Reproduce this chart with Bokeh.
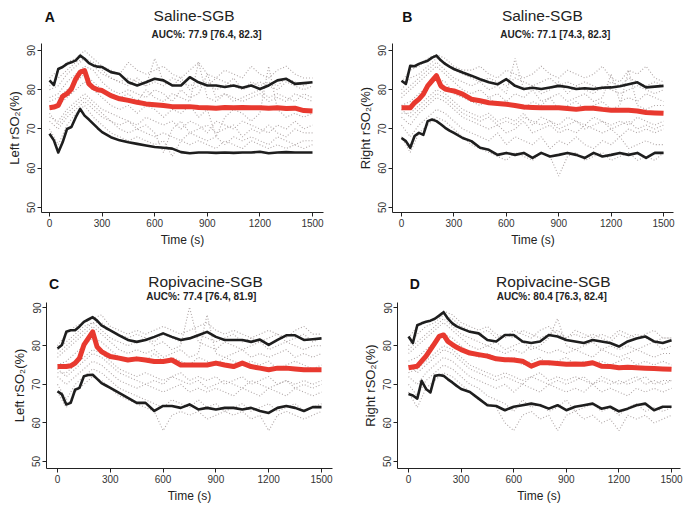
from bokeh.plotting import figure
from bokeh.layouts import column, row
from bokeh.models import Range1d, FixedTicker
from bokeh.core.properties import value
from bokeh.embed import file_html
from bokeh.resources import INLINE

# ---------------- data ----------------
TIME_MAIN = [0, 25, 50, 75, 100, 125, 150, 175, 200, 225, 250, 275, 300, 350, 400, 450, 500,
             550, 600, 650, 700, 750, 800, 850, 900, 950, 1000, 1050, 1100, 1150, 1200, 1250,
             1300, 1350, 1400, 1450, 1500]
TIME_GREY = [0, 50, 100, 150, 200, 250, 300, 350, 400, 450, 500, 550, 600, 650, 700, 750,
             800, 850, 900, 950, 1000, 1050, 1100, 1150, 1200, 1250, 1300, 1350, 1400, 1450, 1500]
X_TICKS = [0, 300, 600, 900, 1200, 1500]
Y_TICKS = [50, 60, 70, 80, 90]

LETTERS = ["A", "B", "C", "D"]
TITLES = ["Saline-SGB", "Saline-SGB", "Ropivacine-SGB", "Ropivacine-SGB"]
AUC_TEXT = ["AUC%: 77.9 [76.4, 82.3]", "AUC%: 77.1 [74.3, 82.3]",
            "AUC%: 77.4 [76.4, 81.9]", "AUC%: 80.4 [76.3, 82.4]"]
Y_LABELS = ["Left rSO\u2082(%)", "Right rSO\u2082(%)", "Left rSO\u2082(%)", "Right rSO\u2082(%)"]
X_LABEL = "Time (s)"

# Panel A (Saline, left)
A_UPPER = [82.4, 81.2, 85.3, 85.8, 86.6, 87.0, 87.5, 88.7, 87.9, 86.8, 86.2, 85.9, 85.8, 84.5, 84.0,
           81.9, 81.1, 81.9, 82.8, 82.4, 81.1, 81.1, 83.2, 81.9, 81.1, 81.1, 80.7, 81.1, 80.5, 81.1,
           80.2, 81.1, 82.4, 82.8, 81.5, 81.7, 81.9]
A_MEDIAN = [75.4, 75.6, 76.0, 78.3, 79.0, 80.2, 82.8, 84.5, 84.9, 81.5, 80.5, 80.0, 79.8, 78.5, 77.7,
            77.3, 76.8, 76.4, 76.2, 76.0, 75.7, 75.7, 75.7, 75.5, 75.4, 75.3, 75.5, 75.4, 75.5, 75.4,
            75.4, 75.3, 75.4, 75.2, 75.3, 74.7, 74.6]
A_LOWER = [68.8, 67.1, 64.0, 66.6, 70.0, 70.5, 73.0, 75.1, 73.4, 72.4, 71.3, 70.2, 69.2, 67.9, 67.1,
           66.6, 66.2, 65.8, 65.4, 65.2, 65.0, 64.1, 63.8, 64.0, 64.0, 63.9, 64.0, 63.9, 64.0, 64.0,
           64.2, 63.8, 64.0, 64.1, 64.0, 64.0, 64.0]
A_GREYS = [
    [83, 85, 87, 88, 90, 88, 86, 85, 84, 87, 85, 84, 85, 86, 84, 83, 85, 87, 84, 83, 85, 84, 83, 86, 84, 83, 85, 86, 84, 83, 83],
    [80, 81, 84, 86, 88, 86, 84, 83, 82, 81, 83, 81, 88, 82, 81, 83, 80, 81, 82, 80, 81, 83, 80, 81, 82, 81, 80, 82, 81, 80, 81],
    [77, 78, 80, 82, 84, 82, 80, 79, 78, 79, 77, 80, 78, 77, 79, 78, 77, 87, 78, 77, 79, 78, 77, 78, 79, 77, 78, 77, 79, 78, 77],
    [75, 76, 78, 80, 82, 80, 78, 76, 75, 76, 74, 76, 75, 73, 75, 74, 76, 73, 75, 68, 73, 75, 74, 72, 74, 86, 75, 73, 74, 73, 74],
    [72, 70, 73, 75, 77, 75, 73, 72, 71, 72, 70, 71, 69, 64, 70, 72, 69, 70, 71, 69, 70, 71, 68, 70, 69, 71, 69, 68, 70, 69, 69],
    [70, 66, 71, 74, 76, 73, 71, 69, 68, 67, 68, 67, 66, 67, 63, 67, 66, 67, 66, 65, 67, 66, 65, 67, 66, 65, 66, 65, 66, 65, 66],
    [78, 79, 82, 84, 86, 85, 82, 80, 79, 80, 79, 78, 80, 79, 77, 80, 78, 79, 84, 78, 79, 77, 78, 79, 80, 78, 79, 78, 77, 79, 78],
    [73, 72, 75, 77, 79, 77, 75, 74, 73, 72, 71, 73, 72, 71, 72, 70, 72, 71, 69, 72, 71, 70, 72, 71, 70, 69, 71, 70, 72, 70, 71],
    [81, 83, 85, 87, 88, 87, 85, 83, 82, 83, 82, 81, 82, 81, 83, 82, 81, 82, 81, 83, 82, 81, 80, 82, 81, 82, 81, 83, 82, 81, 82],
    [74, 71, 74, 76, 78, 76, 74, 72, 70, 69, 70, 69, 68, 69, 68, 67, 69, 68, 67, 68, 66, 68, 67, 68, 67, 66, 68, 67, 66, 67, 67],
]

# Panel B (Saline, right)
B_UPPER = [82.3, 81.5, 86.1, 86.0, 86.6, 87.0, 87.4, 88.2, 88.7, 87.5, 86.6, 85.9, 85.3, 84.4, 83.6,
           82.7, 81.9, 81.4, 82.7, 81.0, 80.2, 80.5, 80.2, 80.6, 81.0, 80.7, 80.2, 80.4, 80.2, 80.5,
           80.6, 80.9, 81.4, 81.9, 80.6, 80.8, 81.0]
B_MEDIAN = [75.4, 75.4, 75.4, 76.7, 77.6, 78.9, 81.0, 82.3, 83.6, 81.0, 80.2, 79.9, 79.7, 78.9, 77.6,
            77.2, 76.7, 76.5, 76.3, 76.0, 75.6, 75.5, 75.4, 75.4, 75.4, 75.2, 75.0, 75.3, 75.3, 75.0,
            74.8, 74.8, 74.8, 74.6, 74.2, 74.1, 74.0]
B_LOWER = [67.7, 66.9, 65.2, 68.2, 69.0, 68.5, 72.0, 72.4, 72.0, 71.2, 70.3, 69.6, 69.0, 67.7, 66.9,
           65.2, 64.7, 63.4, 63.9, 63.4, 63.9, 62.6, 63.9, 63.0, 63.4, 63.9, 63.4, 62.6, 63.9, 63.0,
           63.4, 63.9, 63.4, 63.9, 62.6, 63.9, 63.9]
B_GREYS = [
    [82, 85, 86, 88, 89, 88, 86, 85, 85, 86, 84, 83, 85, 84, 83, 84, 86, 84, 83, 85, 84, 83, 84, 86, 83, 82, 85, 84, 86, 83, 82],
    [79, 81, 83, 85, 87, 85, 83, 82, 81, 82, 80, 81, 79, 88, 80, 81, 79, 80, 82, 79, 81, 80, 79, 81, 80, 79, 80, 81, 80, 79, 80],
    [76, 77, 79, 81, 83, 82, 79, 78, 77, 76, 78, 76, 77, 76, 75, 77, 76, 78, 75, 76, 77, 75, 76, 77, 75, 76, 85, 76, 75, 76, 76],
    [74, 74, 76, 78, 80, 79, 77, 75, 74, 73, 74, 72, 73, 72, 74, 71, 73, 72, 71, 73, 72, 71, 73, 72, 71, 72, 71, 73, 72, 71, 72],
    [71, 68, 71, 73, 75, 74, 72, 70, 69, 68, 67, 69, 66, 68, 67, 66, 68, 65, 67, 66, 68, 66, 65, 67, 66, 68, 65, 66, 67, 66, 66],
    [68, 64, 69, 71, 73, 72, 70, 68, 66, 65, 64, 63, 62, 64, 63, 62, 64, 63, 58, 63, 64, 62, 63, 64, 62, 63, 64, 62, 63, 62, 64],
    [78, 80, 82, 84, 86, 84, 82, 80, 79, 80, 78, 79, 77, 79, 78, 80, 77, 78, 79, 77, 78, 79, 77, 78, 84, 77, 78, 77, 79, 78, 77],
    [73, 71, 74, 76, 78, 77, 75, 73, 72, 71, 70, 71, 69, 70, 72, 69, 70, 71, 69, 70, 69, 71, 70, 69, 70, 68, 70, 69, 70, 69, 70],
    [80, 83, 84, 86, 88, 87, 85, 84, 83, 82, 83, 82, 81, 83, 82, 81, 82, 83, 81, 82, 81, 82, 81, 80, 82, 81, 83, 82, 81, 82, 81],
    [75, 73, 75, 77, 79, 78, 76, 74, 73, 72, 73, 71, 72, 71, 73, 72, 71, 72, 70, 71, 72, 70, 71, 72, 70, 71, 72, 70, 71, 70, 71],
]

# Panel C (Ropivacine, left)
C_UPPER = [79.3, 80.2, 83.6, 84.0, 84.0, 85.0, 86.2, 86.8, 87.4, 86.5, 85.3, 84.6, 84.0, 82.7, 81.5,
           81.0, 81.5, 82.3, 83.2, 82.3, 81.5, 81.9, 82.7, 83.6, 82.3, 81.5, 81.5, 81.5, 81.0, 81.6,
           80.2, 81.5, 82.7, 82.7, 81.5, 81.7, 81.9]
C_MEDIAN = [74.6, 74.6, 74.6, 74.8, 75.5, 76.8, 80.2, 81.9, 83.6, 79.7, 78.5, 77.8, 77.2, 76.8, 76.3,
            76.6, 76.3, 75.9, 75.9, 76.3, 75.0, 75.0, 75.0, 75.0, 75.5, 75.0, 74.6, 75.5, 74.6, 74.2,
            73.8, 74.2, 74.2, 74.0, 73.8, 73.8, 73.8]
C_LOWER = [68.2, 67.4, 64.8, 65.2, 68.6, 69.1, 72.1, 72.4, 72.5, 71.4, 70.3, 69.7, 69.1, 67.8, 66.5,
           65.2, 65.2, 63.1, 64.4, 64.4, 63.9, 64.8, 63.5, 63.9, 63.5, 63.9, 63.9, 63.5, 63.9, 63.1,
           62.6, 63.9, 64.4, 63.9, 63.1, 64.1, 64.1]
C_GREYS = [
    [80, 83, 85, 86, 87, 88, 85, 84, 83, 84, 83, 84, 85, 84, 83, 84, 85, 86, 84, 83, 84, 83, 82, 83, 84, 83, 82, 84, 85, 83, 83],
    [78, 80, 82, 84, 86, 84, 82, 81, 80, 81, 82, 80, 81, 79, 80, 90, 81, 80, 79, 81, 80, 79, 80, 81, 79, 80, 81, 80, 79, 80, 80],
    [75, 76, 78, 80, 82, 81, 79, 77, 76, 77, 76, 78, 76, 77, 76, 75, 77, 76, 75, 77, 76, 75, 76, 75, 76, 74, 75, 76, 75, 74, 75],
    [73, 73, 75, 77, 79, 78, 76, 74, 73, 72, 73, 72, 71, 72, 73, 71, 72, 71, 72, 70, 71, 72, 70, 71, 72, 70, 71, 70, 71, 70, 71],
    [70, 66, 70, 72, 74, 73, 71, 69, 68, 67, 66, 65, 64, 66, 65, 64, 66, 64, 65, 63, 64, 65, 63, 64, 65, 63, 64, 65, 63, 64, 65],
    [68, 64, 68, 70, 72, 71, 69, 67, 66, 65, 64, 63, 58, 62, 63, 62, 63, 61, 62, 63, 62, 63, 61, 62, 58, 62, 63, 62, 61, 62, 63],
    [77, 79, 81, 83, 85, 83, 81, 79, 78, 79, 78, 79, 77, 78, 79, 77, 78, 88, 78, 77, 78, 79, 77, 78, 77, 78, 79, 77, 78, 77, 78],
    [72, 70, 72, 74, 76, 75, 73, 71, 70, 69, 70, 69, 68, 69, 70, 68, 69, 68, 69, 68, 67, 69, 68, 67, 69, 68, 67, 69, 68, 67, 68],
    [79, 81, 83, 85, 86, 86, 84, 83, 82, 83, 82, 81, 83, 82, 81, 82, 83, 82, 81, 82, 83, 81, 82, 81, 82, 83, 81, 82, 83, 81, 82],
    [74, 72, 74, 76, 78, 77, 75, 73, 72, 71, 70, 71, 70, 72, 71, 70, 71, 69, 70, 71, 70, 69, 71, 70, 69, 70, 71, 69, 70, 69, 70],
]

# Panel D (Ropivacine, right)
D_UPPER = [82.4, 80.7, 85.3, 85.8, 86.2, 86.5, 87.0, 87.8, 88.7, 87.0, 85.8, 85.0, 84.5, 83.6, 83.2,
           81.5, 81.1, 82.8, 82.8, 81.1, 80.7, 81.1, 82.8, 82.4, 81.5, 81.1, 80.7, 81.5, 81.1, 80.7,
           79.8, 81.1, 81.9, 82.4, 81.1, 80.7, 81.4]
D_MEDIAN = [74.3, 74.5, 74.7, 76.0, 77.3, 79.0, 80.7, 82.4, 82.8, 81.1, 80.3, 79.6, 79.0, 78.1, 77.7,
            77.3, 76.6, 76.4, 76.3, 76.0, 74.7, 75.6, 75.6, 75.4, 75.2, 75.3, 75.2, 75.6, 74.7, 74.6,
            74.3, 74.4, 74.3, 74.2, 74.1, 74.0, 73.9]
D_LOWER = [67.5, 67.1, 66.3, 70.9, 68.8, 67.9, 72.2, 72.4, 72.2, 71.3, 70.5, 69.6, 68.8, 68.0, 66.3,
           64.6, 64.4, 63.3, 64.2, 64.6, 65.0, 64.6, 63.7, 64.6, 63.3, 64.2, 64.6, 65.0, 63.7, 64.2,
           63.0, 63.7, 64.6, 65.0, 63.3, 64.2, 64.2]
D_GREYS = [
    [82, 85, 86, 87, 89, 88, 86, 85, 84, 85, 83, 82, 84, 83, 82, 84, 85, 83, 82, 84, 83, 82, 83, 82, 84, 83, 82, 83, 84, 82, 82],
    [79, 81, 83, 85, 87, 85, 83, 82, 81, 80, 81, 79, 80, 81, 79, 80, 82, 87, 80, 79, 80, 81, 79, 80, 79, 80, 79, 80, 81, 79, 80],
    [76, 77, 79, 81, 83, 82, 80, 78, 77, 78, 77, 76, 77, 75, 76, 77, 75, 76, 77, 75, 76, 75, 76, 75, 76, 77, 75, 76, 75, 76, 75],
    [73, 74, 76, 78, 80, 79, 77, 75, 74, 73, 72, 73, 72, 71, 72, 73, 71, 72, 71, 72, 71, 70, 72, 71, 70, 71, 72, 70, 71, 70, 71],
    [70, 67, 71, 73, 75, 74, 72, 70, 69, 67, 66, 65, 63, 66, 64, 65, 63, 64, 66, 63, 64, 65, 63, 64, 62, 64, 65, 63, 64, 63, 64],
    [68, 64, 69, 71, 73, 72, 70, 68, 66, 65, 64, 60, 58, 62, 63, 61, 62, 58, 62, 63, 61, 62, 60, 61, 58, 62, 61, 62, 60, 61, 62],
    [78, 80, 82, 84, 86, 84, 82, 80, 79, 80, 79, 78, 79, 78, 80, 79, 78, 79, 78, 79, 78, 77, 79, 78, 77, 78, 79, 78, 77, 78, 78],
    [72, 70, 73, 75, 77, 76, 74, 72, 71, 70, 69, 70, 68, 70, 69, 68, 70, 69, 68, 69, 68, 70, 68, 69, 68, 67, 69, 68, 69, 68, 69],
    [80, 83, 85, 86, 88, 87, 85, 84, 83, 84, 82, 83, 82, 84, 83, 82, 83, 84, 82, 83, 82, 83, 82, 81, 83, 82, 83, 82, 81, 82, 82],
    [75, 73, 75, 77, 79, 78, 76, 74, 73, 72, 71, 72, 71, 70, 72, 71, 70, 71, 70, 71, 72, 70, 71, 70, 71, 70, 71, 72, 70, 71, 71],
]

for _s in (A_UPPER, A_MEDIAN, A_LOWER, B_UPPER, B_MEDIAN, B_LOWER,
           C_UPPER, C_MEDIAN, C_LOWER, D_UPPER, D_MEDIAN, D_LOWER):
    assert len(_s) == len(TIME_MAIN), len(_s)
for _g in A_GREYS + B_GREYS + C_GREYS + D_GREYS:
    assert len(_g) == len(TIME_GREY), len(_g)

# ---------------- drawing ----------------
FONT = "Liberation Sans"
INK = "#222222"


def header(w, h, title, title_x, title_y, letter, letter_x, letter_y,
           auc=None, auc_x=0, auc_y=0):
    hp = figure(width=w, height=h, output_backend="svg", toolbar_location=None,
                x_range=Range1d(0, w), y_range=Range1d(0, h),
                x_axis_type=None, y_axis_type=None,
                min_border_left=0, min_border_right=0, min_border_top=0, min_border_bottom=0)
    hp.outline_line_color = None
    hp.grid.visible = False
    hp.text(x=[title_x], y=[title_y], text=[title], text_align="center",
            text_baseline="alphabetic", text_font=value(FONT), text_font_size="15.5px",
            text_color=INK)
    hp.text(x=[letter_x], y=[letter_y], text=[letter], text_align="left",
            text_baseline="alphabetic", text_font=value(FONT), text_font_size="14px",
            text_font_style="bold", text_color="#111111")
    if auc is not None:
        hp.text(x=[auc_x], y=[auc_y], text=[auc], text_align="center",
                text_baseline="alphabetic", text_font=value(FONT), text_font_size="10px",
                text_font_style="bold", text_color=INK)
    return hp


def panel(idx, upper, median, lower, greys, w, h, bl, br, bt, bb, xr, yr):
    p = figure(width=w, height=h, output_backend="svg", toolbar_location=None,
               x_range=Range1d(*xr), y_range=Range1d(*yr),
               min_border_left=bl, min_border_right=br,
               min_border_top=bt, min_border_bottom=bb)
    p.outline_line_color = None
    p.grid.visible = False

    for g in greys:
        p.line(TIME_GREY, g, line_color="#a69c9c", line_dash="1 2", line_width=1.1, line_alpha=0.9)
    for s in (upper, lower):
        p.line(TIME_MAIN, s, line_color="#1e1e1e", line_width=2.6, line_join="round")
    p.line(TIME_MAIN, median, line_color="#e8392f", line_width=5, line_join="round")

    for ax in (p.xaxis[0], p.yaxis[0]):
        ax.axis_line_color = INK
        ax.axis_line_width = 1
        ax.major_tick_line_color = INK
        ax.major_tick_out = 4
        ax.major_tick_in = 0
        ax.minor_tick_line_color = None
        ax.major_label_text_font = FONT
        ax.major_label_text_font_size = "10px"
        ax.major_label_text_color = "#333333"
        ax.major_label_standoff = 2
        ax.axis_label_text_font = FONT
        ax.axis_label_text_font_style = "normal"
        ax.axis_label_text_color = INK
        ax.axis_label_standoff = 3
    p.xaxis.ticker = FixedTicker(ticks=X_TICKS)
    p.yaxis.ticker = FixedTicker(ticks=Y_TICKS)
    p.yaxis.major_label_orientation = "vertical"
    p.xaxis.axis_label = X_LABEL
    p.xaxis.axis_label_text_font_size = "12px"
    p.yaxis.axis_label = Y_LABELS[idx]
    p.yaxis.axis_label_text_font_size = "13px"
    return p


# top row: header 40 px + plot 210 px ; bottom row: header 52 px + plot 204 px
hA = header(340, 40, TITLES[0], 184, 25, LETTERS[0], 4, 24, AUC_TEXT[0], 199, 6)
pA = panel(0, A_UPPER, A_MEDIAN, A_LOWER, A_GREYS, 340, 210, 41, 17, 3, 38,
           (-45.6, 1562.7), (48.7, 91.8))
hB = header(345, 40, TITLES[1], 184, 25, LETTERS[1], 12, 24, AUC_TEXT[1], 200, 6)
pB = panel(1, B_UPPER, B_MEDIAN, B_LOWER, B_GREYS, 345, 210, 52, 12, 3, 38,
           (-51.5, 1557.0), (48.7, 91.8))
hC = header(340, 52, TITLES[2], 189, 21, LETTERS[2], 3, 19, AUC_TEXT[2], 184, 6)
pC = panel(2, C_UPPER, C_MEDIAN, C_LOWER, C_GREYS, 340, 204, 46, 8, 0, 38,
           (-62.5, 1562.5), (48.2, 91.2))
hD = header(345, 52, TITLES[3], 190, 21, LETTERS[3], 15, 19, AUC_TEXT[3], 188, 6)
pD = panel(3, D_UPPER, D_MEDIAN, D_LOWER, D_GREYS, 345, 204, 57, 5, 0, 38,
           (-62.7, 1551.0), (48.2, 91.2))

layout = column(row(column(hA, pA), column(hB, pB)),
                row(column(hC, pC), column(hD, pD)))
open("out.html", "w").write(file_html(layout, INLINE))
